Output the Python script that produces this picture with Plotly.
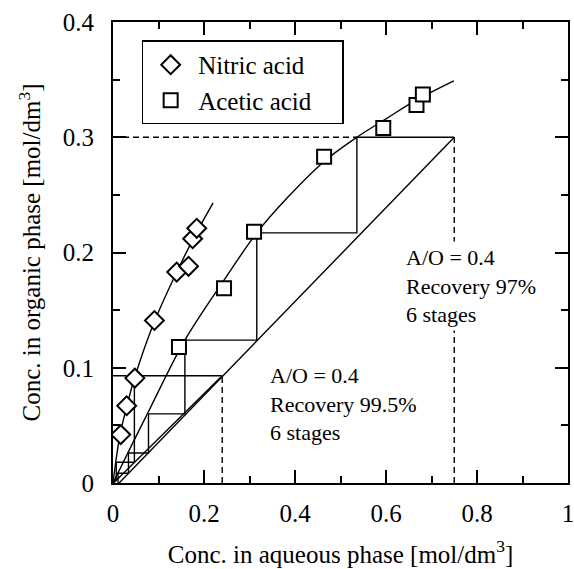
import plotly.graph_objects as go

# ---------------- data ----------------
# measured points
nitric_x = [0.017, 0.030, 0.048, 0.091, 0.140, 0.166, 0.175, 0.184]
nitric_y = [0.042, 0.067, 0.091, 0.141, 0.183, 0.188, 0.212, 0.221]
acetic_x = [0.145, 0.244, 0.310, 0.464, 0.594, 0.667, 0.681]
acetic_y = [0.118, 0.169, 0.218, 0.283, 0.308, 0.328, 0.337]

# equilibrium curves
nitric_curve_x = [0.0, 0.0154, 0.030, 0.048, 0.092, 0.151, 0.182, 0.220]
nitric_curve_y = [0.0, 0.0417, 0.066, 0.092, 0.141, 0.192, 0.216, 0.243]
acetic_curve_x = [0.0, 0.040, 0.078, 0.158, 0.244, 0.316, 0.382, 0.464, 0.536, 0.600, 0.670, 0.749]
acetic_curve_y = [0.0, 0.032, 0.062, 0.124, 0.176, 0.217, 0.247, 0.279, 0.300, 0.316, 0.333, 0.349]

# operating lines (end points)
acetic_op_x = [0.0135, 0.75]
acetic_op_y = [0.0, 0.30]
nitric_op_x = [0.0012, 0.24]
nitric_op_y = [0.0, 0.093]

# stage points on the equilibrium curves
acetic_feed_x = 0.75
acetic_stage_x = [0.536, 0.316, 0.158, 0.078, 0.034, 0.011]
acetic_stage_y = [0.300, 0.217, 0.124, 0.060, 0.026, 0.0085]
nitric_feed_x = 0.24
nitric_stage_x = [0.047, 0.0072, 0.0012]
nitric_stage_y = [0.093, 0.018, 0.0025]

x_ticks = [0, 0.2, 0.4, 0.6, 0.8, 1.0]
x_tick_labels = ["0", "0.2", "0.4", "0.6", "0.8", "1"]
y_ticks = [0, 0.1, 0.2, 0.3, 0.4]
y_tick_labels = ["0", "0.1", "0.2", "0.3", "0.4"]

FONT = "Liberation Serif, Times New Roman, serif"
PAD = "\u00a0" * 4


def staircase(feed_x, sx, sy):
    xs = [feed_x]
    ys = [sy[0]]
    for i in range(len(sx)):
        nxt = sy[i + 1] if i + 1 < len(sy) else 0.0
        xs += [sx[i], sx[i]]
        ys += [sy[i], nxt]
    return xs, ys


fig = go.Figure()
line_style = dict(color="black", width=1.4)
dash_style = dict(color="black", width=1.4, dash="6px,4px")

# operating lines
fig.add_trace(go.Scatter(x=acetic_op_x, y=acetic_op_y, mode="lines", line=line_style,
                         showlegend=False, hoverinfo="skip"))
fig.add_trace(go.Scatter(x=nitric_op_x, y=nitric_op_y, mode="lines", line=line_style,
                         showlegend=False, hoverinfo="skip"))

# staircases
sx, sy = staircase(acetic_feed_x, acetic_stage_x, acetic_stage_y)
fig.add_trace(go.Scatter(x=sx, y=sy, mode="lines", line=line_style, showlegend=False, hoverinfo="skip"))
sx, sy = staircase(nitric_feed_x, nitric_stage_x, nitric_stage_y)
fig.add_trace(go.Scatter(x=[0.0] + sx, y=[nitric_stage_y[0]] + sy, mode="lines", line=line_style,
                         showlegend=False, hoverinfo="skip"))

# dashed guide lines
fig.add_trace(go.Scatter(x=[0.0, acetic_stage_x[0]], y=[acetic_stage_y[0]] * 2, mode="lines",
                         line=dash_style, showlegend=False, hoverinfo="skip"))
fig.add_trace(go.Scatter(x=[acetic_feed_x] * 2, y=[0.0, acetic_stage_y[0]], mode="lines",
                         line=dash_style, showlegend=False, hoverinfo="skip"))
fig.add_trace(go.Scatter(x=[nitric_feed_x] * 2, y=[0.0, nitric_stage_y[0]], mode="lines",
                         line=dash_style, showlegend=False, hoverinfo="skip"))

# equilibrium curves
fig.add_trace(go.Scatter(x=nitric_curve_x, y=nitric_curve_y, mode="lines",
                         line=dict(color="black", width=1.4, shape="spline", smoothing=1.0),
                         showlegend=False, hoverinfo="skip"))
fig.add_trace(go.Scatter(x=acetic_curve_x, y=acetic_curve_y, mode="lines",
                         line=dict(color="black", width=1.4, shape="spline", smoothing=1.0),
                         showlegend=False, hoverinfo="skip"))

# measured points
fig.add_trace(go.Scatter(x=nitric_x, y=nitric_y, mode="markers", name="Nitric acid" + PAD,
                         marker=dict(symbol="diamond", size=14.5, color="white",
                                     line=dict(color="black", width=2))))
fig.add_trace(go.Scatter(x=acetic_x, y=acetic_y, mode="markers", name="Acetic acid" + PAD,
                         marker=dict(symbol="square", size=14, color="white",
                                     line=dict(color="black", width=2))))

fig.add_annotation(x=0.635, y=0.171, xref="x", yref="y", xanchor="left", yanchor="middle",
                   align="left", showarrow=False, bgcolor="white", borderpad=3,
                   text="A/O = 0.4<br>Recovery 97%<br>6 stages",
                   font=dict(family=FONT, size=22, color="black"))
fig.add_annotation(x=0.341, y=0.0685, xref="x", yref="y", xanchor="left", yanchor="middle",
                   align="left", showarrow=False,
                   text="A/O = 0.4<br>Recovery 99.5%<br>6 stages",
                   font=dict(family=FONT, size=22, color="black"))

axis_common = dict(
    showline=True, linecolor="black", linewidth=2, mirror="ticks",
    ticks="inside", ticklen=13, tickwidth=2, tickcolor="black",
    showgrid=False, zeroline=False, automargin=False, ticklabeloverflow="allow",
    tickfont=dict(family=FONT, size=25, color="black"),
)

fig.update_xaxes(range=[0, 1], tickvals=x_ticks, ticktext=x_tick_labels,
                 minor=dict(dtick=0.1, ticks="inside", ticklen=7, tickwidth=2, tickcolor="black"),
                 ticklabelstandoff=7,
                 title=dict(text="Conc. in aqueous phase [mol/dm<sup>3</sup>]",
                            font=dict(family=FONT, size=25, color="black"), standoff=19),
                 **axis_common)
fig.update_yaxes(range=[0, 0.4], tickvals=y_ticks, ticktext=y_tick_labels,
                 minor=dict(dtick=0.05, ticks="inside", ticklen=7, tickwidth=2, tickcolor="black"),
                 ticklabelstandoff=12,
                 title=dict(text="Conc. in organic phase [mol/dm<sup>3</sup>]",
                            font=dict(family=FONT, size=25, color="black"), standoff=15),
                 **axis_common)

fig.update_layout(
    width=574, height=569,
    margin=dict(l=113, r=6, t=22, b=86),
    paper_bgcolor="white", plot_bgcolor="white",
    font=dict(family=FONT, size=25, color="black"),
    legend=dict(x=0.063, y=0.96, xanchor="left", yanchor="top", itemwidth=45,
                bordercolor="black", borderwidth=1.5, bgcolor="white",
                font=dict(family=FONT, size=25, color="black")),
)

fig.write_html("out.html")
